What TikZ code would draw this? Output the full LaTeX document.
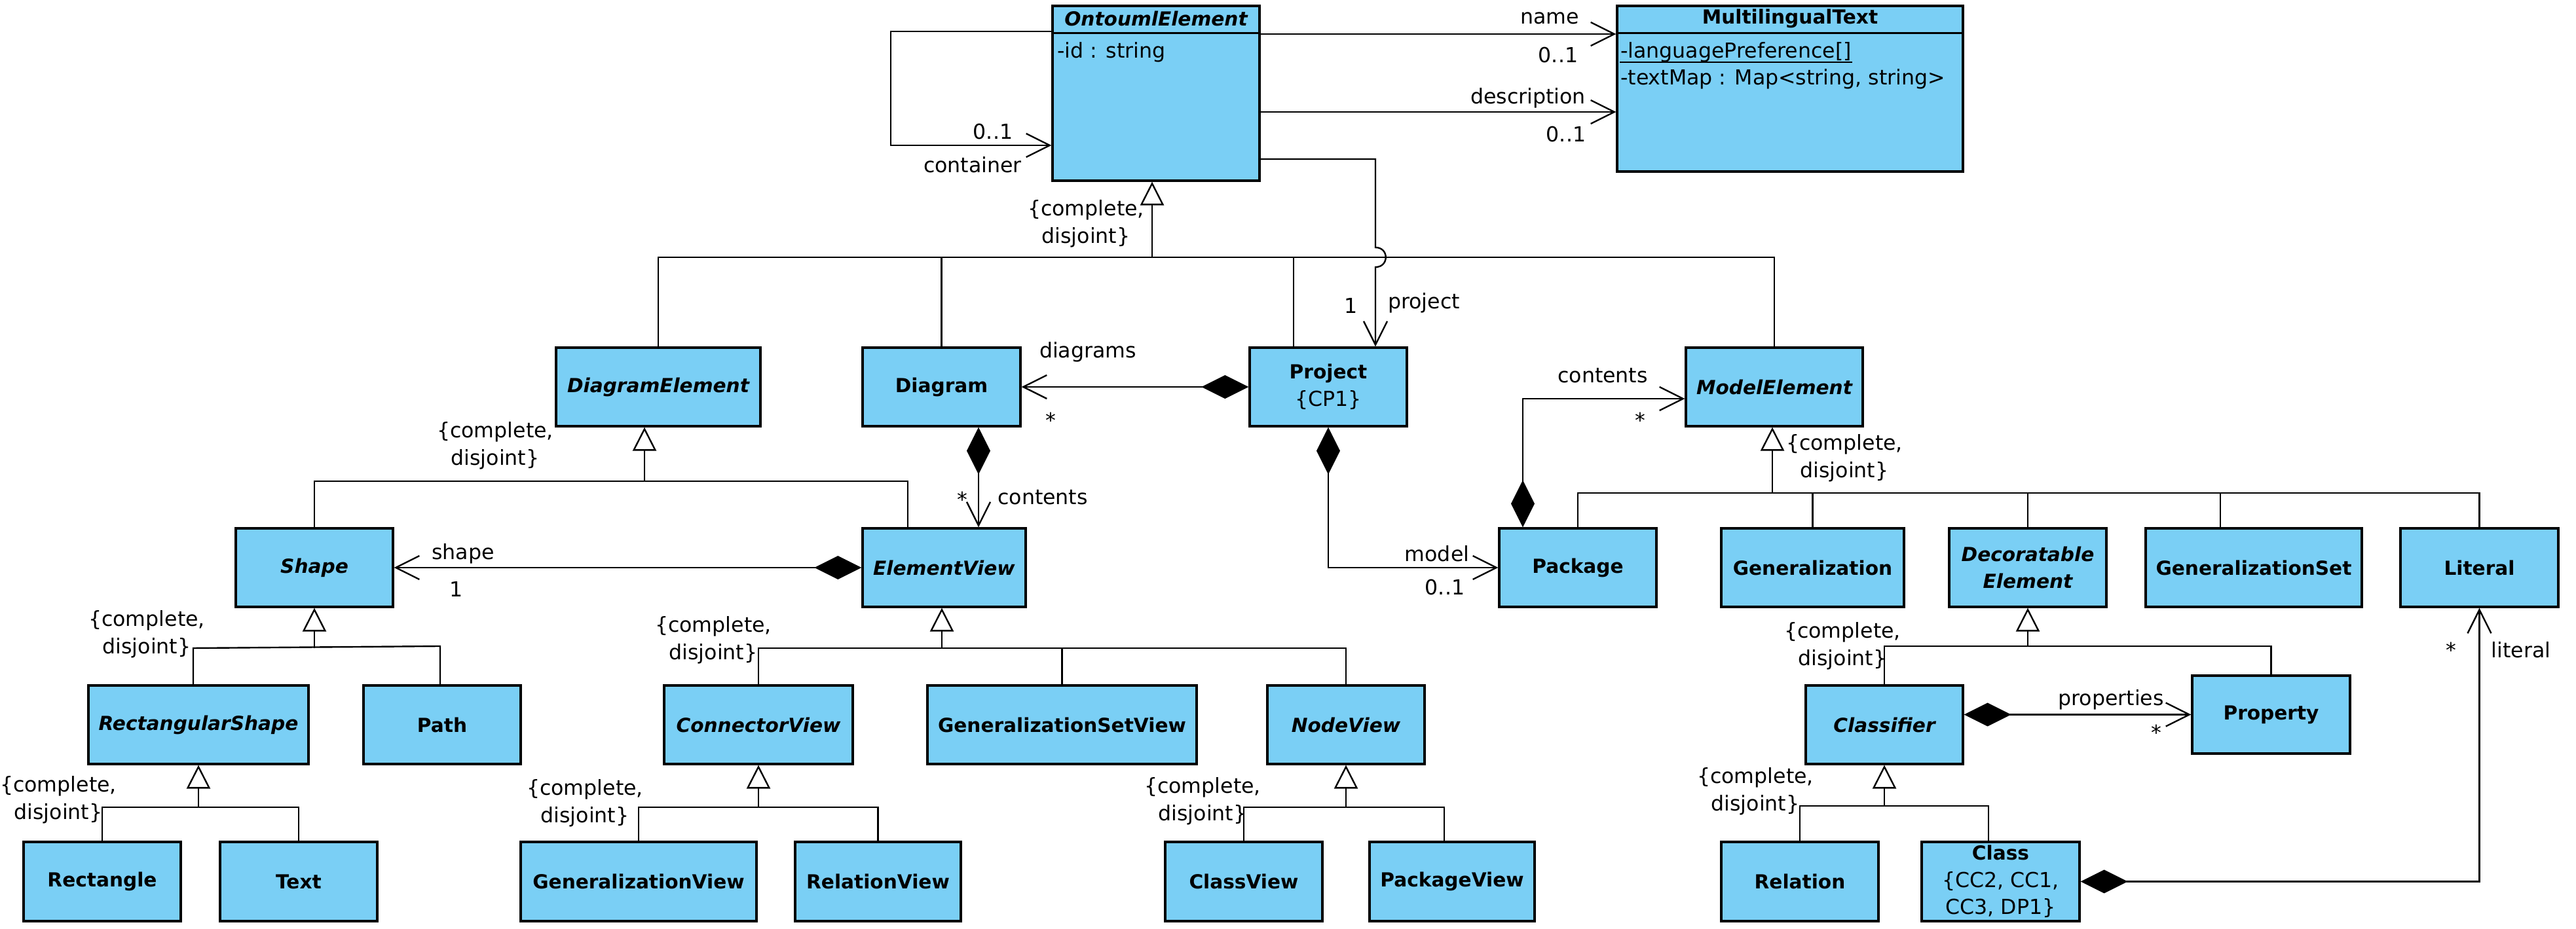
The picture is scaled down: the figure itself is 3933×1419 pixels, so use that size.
\documentclass[tikz,border=0pt]{standalone}
\usepackage{fontspec}
\setmainfont{DejaVu Sans}
\usetikzlibrary{arrows.meta,calc}
\definecolor{boxblue}{RGB}{122,207,245}
\newcommand\rgf{\fontsize{7.9}{10.4}\selectfont}
\newcommand\bdf{\fontsize{7.4}{10.4}\selectfont\bfseries}
\newcommand\bif{\fontsize{7.4}{10.4}\selectfont\bfseries\itshape}
\tikzset{
  cls/.style={draw=black, line width=0.8pt, fill=boxblue, inner sep=0pt, align=center, font=\bdf},
  sz/.style 2 args={minimum width=#1*0.25pt, minimum height=#2*0.25pt},
  lbl/.style={inner sep=0pt, align=center, font=\rgf},
  conn/.style={line width=0.6pt, draw=black},
  nav/.style={conn, -{Straight Barb[length=9pt,width=9pt]}},
  genarr/.style={conn, -{Triangle[open,length=9pt,width=9pt,fill=white]}},
  comp/.style={conn, {Diamond[length=18pt,width=9pt]}-{Straight Barb[length=9pt,width=9pt]}},
}
\begin{document}
\begin{tikzpicture}[x=0.25pt,y=-0.25pt]
\useasboundingbox (0,0) rectangle (3933,1419);

% ---------- classes ----------
\node[cls, sz={316}{267}] (oe) at (1765,142.5) {};
\draw[line width=0.8pt] ($(oe.north west)+(0,43)$) -- ($(oe.north east)+(0,43)$);
\node[inner sep=0pt, font=\bif] (oeT) at ($(oe.north)+(0,21.5)$) {OntoumlElement};
\node[inner sep=0pt, font=\rgf, anchor=base west] (oeA) at ($(oe.north west)+(8,81)$) {-id : string};

\node[cls, sz={528}{253}] (mt) at (2733,135.5) {};
\draw[line width=0.8pt] ($(mt.north west)+(0,43)$) -- ($(mt.north east)+(0,43)$);
\node[inner sep=0pt, font=\bdf] (mtT) at ($(mt.north)+(0,21.5)$) {MultilingualText};
\node[inner sep=0pt, font=\rgf, anchor=base west] (mtA) at ($(mt.north west)+(6,81)$) {-languagePreference[]};
\draw[line width=0.5pt] ($(mtA.base west)+(0,7)$) -- ($(mtA.base east)+(0,7)$);
\node[inner sep=0pt, font=\rgf, anchor=base west] (mtB) at ($(mt.north west)+(6,122)$) {-textMap : Map<string, string>};

\node[cls, sz={312}{120}] (de) at (1005,591) {\bif DiagramElement};
\node[cls, sz={241}{120}] (diag) at (1437.5,591) {Diagram};
\node[cls, sz={240}{120}] (proj) at (2028,591) {Project\\{\rgf\mdseries\{CP1\}}};
\node[cls, sz={270}{120}] (me) at (2709,591) {\bif ModelElement};

\node[cls, sz={240}{120}] (shape) at (480,867) {\bif Shape};
\node[cls, sz={249}{120}] (ev) at (1441.5,867) {\bif ElementView};
\node[cls, sz={240}{120}] (pkg) at (2409,867) {Package};
\node[cls, sz={279}{120}] (gen) at (2767.5,867) {Generalization};
\node[cls, sz={240}{120}] (dec) at (3096,867) {\bif Decoratable\\\bif Element};
\node[cls, sz={330}{120}] (gset) at (3441,867) {GeneralizationSet};
\node[cls, sz={241}{120}] (lit) at (3785.5,867) {Literal};

\node[cls, sz={336}{120}] (rshape) at (303,1107) {\bif RectangularShape};
\node[cls, sz={240}{120}] (path) at (675,1107) {Path};
\node[cls, sz={288}{120}] (cv) at (1158,1107) {\bif ConnectorView};
\node[cls, sz={411}{120}] (gsv) at (1621.5,1107) {GeneralizationSetView};
\node[cls, sz={240}{120}] (nv) at (2055,1107) {\bif NodeView};
\node[cls, sz={240}{120}] (clf) at (2877,1107) {\bif Classifier};
\node[cls, sz={241}{119}] (prop) at (3467.5,1091.5) {Property};

\node[cls, sz={240}{121}] (rect) at (156,1346.5) {Rectangle};
\node[cls, sz={240}{121}] (text) at (456,1346.5) {Text};
\node[cls, sz={360}{121}] (gv) at (975,1346.5) {GeneralizationView};
\node[cls, sz={253}{121}] (rv) at (1340.5,1346.5) {RelationView};
\node[cls, sz={240}{121}] (clv) at (1899,1346.5) {ClassView};
\node[cls, sz={252}{121}] (pkv) at (2217,1346.5) {PackageView};
\node[cls, sz={240}{121}] (rel) at (2748,1346.5) {Relation};
\node[cls, sz={241}{121}, font=\rgf] (cls) at (3054.5,1346.5) {{\bdf Class}\\\{CC2, CC1,\\CC3, DP1\}};

% ---------- bend / bus coordinates ----------
\coordinate (sl1) at (1360,48);
\coordinate (sl2) at (1360,222);
\coordinate (nm) at (2200,52);
\coordinate (ds) at (2200,171);
\coordinate (pj1) at (2100,243);
\coordinate (hopA) at (2100,378);
\coordinate (hopB) at (2100,408);
\coordinate (hopC1) at (2121,378);
\coordinate (hopC2) at (2121,408);
\coordinate (t0) at (1759,393);
\coordinate (pv) at (1975,393);
\coordinate (d0) at (984,735);
\coordinate (d1) at (1386,735);
\coordinate (s0) at (480,990);
\coordinate (s1) at (295,990);
\coordinate (s2) at (672,987);
\coordinate (r0) at (303,1233);
\coordinate (e0) at (1438,990);
\coordinate (c0) at (1158,1233);
\coordinate (n0) at (2055,1233);
\coordinate (n1) at (2205,1233);
\coordinate (m0) at (2706,753);
\coordinate (m1) at (3390,753);
\coordinate (k0) at (3096,987);
\coordinate (f0) at (2877,1231);
\coordinate (f1) at (3036,1231);
\coordinate (dv) at (1494,700);
\coordinate (pm) at (2325,609);

% ---------- generalization sets ----------
\draw[conn] (de.north) |- (t0) -| (me.north);
\draw[conn] (diag.north) -- (diag.north |- t0);
\draw[conn] (pv) -- (pv |- proj.north);
\draw[genarr] (t0) -- (t0 |- oe.south);

\draw[conn] (shape.north) |- (d1) -- (d1 |- ev.north);
\draw[genarr] (d0) -- (d0 |- de.south);

\draw[conn] (s1 |- rshape.north) -- (s1) -- (s2) -- (s2 |- path.north);
\draw[genarr] (s0) -- (shape.south);

\draw[conn] (rect.north) |- (r0) -| (text.north);
\draw[genarr] (r0) -- (rshape.south);

\draw[conn] (cv.north) |- (e0) -| (nv.north);
\draw[conn] (gsv.north) -- (gsv.north |- e0);
\draw[genarr] (e0) -- (e0 |- ev.south);

\draw[conn] (gv.north) |- (c0) -| (rv.north);
\draw[genarr] (c0) -- (cv.south);

\draw[conn] (clv.north) |- (n0) -- (n1) -- (n1 |- pkv.north);
\draw[genarr] (n0) -- (nv.south);

\draw[conn] (pkg.north) |- (m0) -| (lit.north);
\draw[conn] (gen.north) -- (gen.north |- m0);
\draw[conn] (dec.north) -- (dec.north |- m0);
\draw[conn] (m1) -- (m1 |- gset.north);
\draw[genarr] (m0) -- (m0 |- me.south);

\draw[conn] (clf.north) |- (k0) -| (prop.north);
\draw[genarr] (k0) -- (dec.south);

\draw[conn] (rel.north) |- (f0) -- (f1) -- (f1 |- cls.north);
\draw[genarr] (f0) -- (clf.south);

% ---------- associations ----------
\draw[nav] (oe.west |- sl1) -- (sl1) -- (sl2) -- (oe.west |- sl2);
\draw[nav] (oe.east |- nm) -- (mt.west |- nm);
\draw[nav] (oe.east |- ds) -- (mt.west |- ds);
\draw[nav] (oe.east |- pj1) -- (pj1) -- (hopA) .. controls (hopC1) and (hopC2) .. (hopB) -- (pj1 |- proj.north);

\draw[comp] (proj.west) -- (diag.east);
\draw[comp] (dv |- diag.south) -- (dv |- ev.north);
\draw[comp] (ev.west) -- (shape.east);
\draw[comp] (proj.south) |- (pkg.west);
\draw[comp] (pm |- pkg.north) -- (pm) -- (pm -| me.west);
\draw[comp] (clf.east |- prop.west) -- (prop.west);
\draw[comp] (cls.east) -| (lit.south);

% ---------- labels ----------
\node[lbl] (l01) at (1516,201) {0..1};
\node[lbl] (l02) at (1485,252) {container};
\node[lbl] (l03) at (2366,28) {name};
\node[lbl] (l04) at (2379,84) {0..1};
\node[lbl] (l05) at (2333,150) {description};
\node[lbl] (l06) at (2391,205) {0..1};
\node[lbl] (l07) at (2063,467) {1};
\node[lbl] (l08) at (2174,463) {project};
\node[lbl] (l09) at (1658,342) {\{complete,\\disjoint\}};
\node[lbl] (l10) at (1661,538) {diagrams};
\node[lbl] (l11) at (1604,642) {*};
\node[lbl] (l12) at (1469,763) {*};
\node[lbl] (l13) at (1592,760) {contents};
\node[lbl] (l14) at (2447,574) {contents};
\node[lbl] (l15) at (2504,642) {*};
\node[lbl] (l16) at (2194,846) {model};
\node[lbl] (l17) at (2206,897) {0..1};
\node[lbl] (l18) at (756,681) {\{complete,\\disjoint\}};
\node[lbl] (l19) at (707,846) {shape};
\node[lbl] (l20) at (697,900) {1};
\node[lbl] (l21) at (224,969) {\{complete,\\disjoint\}};
\node[lbl] (l22) at (89,1222) {\{complete,\\disjoint\}};
\node[lbl] (l23) at (1089,978) {\{complete,\\disjoint\}};
\node[lbl] (l24) at (893,1227) {\{complete,\\disjoint\}};
\node[lbl] (l25) at (1836,1224) {\{complete,\\disjoint\}};
\node[lbl] (l26) at (2816,700) {\{complete,\\disjoint\}};
\node[lbl] (l27) at (2813,987) {\{complete,\\disjoint\}};
\node[lbl] (l28) at (2680,1209) {\{complete,\\disjoint\}};
\node[lbl] (l29) at (3223,1069) {properties};
\node[lbl] (l30) at (3292,1119) {*};
\node[lbl] (l31) at (3742,993) {*};
\node[lbl] (l32) at (3849,993) {literal};
\end{tikzpicture}
\end{document}
